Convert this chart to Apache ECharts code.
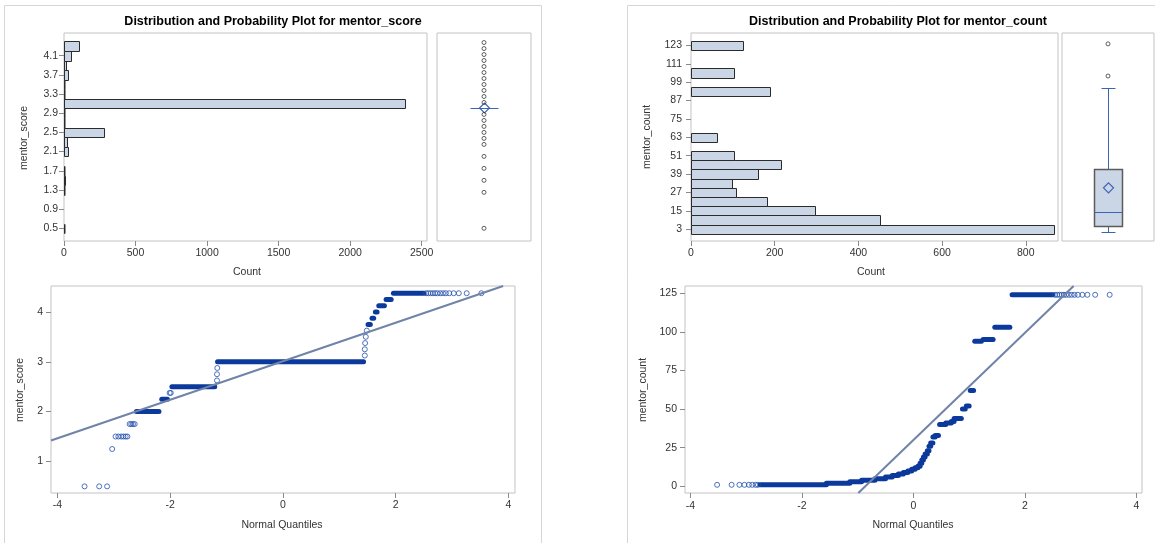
<!DOCTYPE html>
<html><head><meta charset="utf-8">
<script src="https://cdn.jsdelivr.net/npm/echarts@6/dist/echarts.min.js"></script>
<style>html,body{margin:0;padding:0;background:#fff;overflow:hidden}#c{width:1155px;height:543px}</style>
</head><body><div id="c"></div>
<script>
// ================= DATA =================
// mentor_score histogram (bin centers, bin width 0.2)
const scoreBinCenters = [0.5,0.7,0.9,1.1,1.3,1.5,1.7,1.9,2.1,2.3,2.5,2.7,2.9,3.1,3.3,3.5,3.7,3.9,4.1,4.3];
const scoreBinCounts  = [3,0,0,0,1,6,3,0,29,21,281,2,1,2380,3,3,28,14,49,105];
const scoreBinWidth = 0.2;
const scoreYTicks = [0.5,0.9,1.3,1.7,2.1,2.5,2.9,3.3,3.7,4.1];
const scoreCountTicks = [0,500,1000,1500,2000,2500];
// box: [lowWhisker, Q1, median, Q3, highWhisker, mean]
const scoreBox = [3,3,3,3,3,3.01];
const scoreOutliers = [0.5,1.25,1.5,1.75,2.0,2.25,2.375,2.5,2.625,2.75,2.875,3.125,3.25,3.375,3.5,3.625,3.75,3.875,4.0,4.125,4.25,4.375];
// mentor_score normal QQ: dense runs [qFrom, qTo, value], single points [q, value]
const scoreQQRuns = [
  [-2.60,-2.20,2.0],[-2.15,-2.05,2.25],[-1.97,-1.21,2.5],[-1.16,1.43,3.0],
  [1.51,1.55,3.75],[1.58,1.61,3.875],[1.64,1.67,4.0],[1.70,1.80,4.125],[1.83,1.92,4.25],[1.96,2.50,4.375]
];
const scoreQQPoints = [
  [-3.52,0.5],[-3.26,0.5],[-3.12,0.5],[-3.03,1.25],
  [-2.97,1.5],[-2.92,1.5],[-2.87,1.5],[-2.83,1.5],[-2.79,1.5],[-2.76,1.5],
  [-2.72,1.75],[-2.69,1.75],[-2.66,1.75],[-2.63,1.75],
  [-2.01,2.375],[-1.99,2.375],
  [-1.17,2.625],[-1.17,2.75],[-1.165,2.875],
  [1.452,3.125],[1.452,3.25],[1.458,3.375],[1.47,3.5],[1.488,3.625],
  [2.54,4.375],[2.58,4.375],[2.62,4.375],[2.66,4.375],[2.70,4.375],[2.74,4.375],[2.79,4.375],[2.84,4.375],[2.89,4.375],[2.95,4.375],[3.03,4.375],[3.12,4.375],[3.26,4.375],[3.52,4.375]
];
const scoreFitLine = [[-4.115,1.42],[3.906,4.52]];
const scoreQQXTicks = [-4,-2,0,2,4];
const scoreQQYTicks = [1,2,3,4];

// mentor_count histogram (bin centers, bin width 6)
const countBinCenters = [3,9,15,21,27,33,39,45,51,57,63,69,75,81,87,93,99,105,111,117,123];
const countBinCounts  = [868,452,297,182,107,98,160,215,103,0,62,0,0,0,0,189,0,103,0,0,125];
const countBinWidth = 6;
const countYTicks = [3,15,27,39,51,63,75,87,99,111,123];
const countCountTicks = [0,200,400,600,800];
const countBox = [1,5,14,42,95,30];
const countOutliers = [103,124];
const countQQRuns = [
  [-2.75,-1.56,1],[-1.56,-1.14,2],[-1.14,-0.93,3],[-0.93,-0.69,4],[-0.69,-0.50,5],
  [-0.50,-0.38,6],[-0.38,-0.27,7],[-0.27,-0.18,8],[-0.18,-0.10,9],[-0.10,-0.03,10],
  [-0.03,0.03,11],[0.03,0.08,12],[0.08,0.12,13],[0.12,0.15,15],[0.15,0.18,17],
  [0.18,0.21,19],[0.21,0.25,21],[0.25,0.28,23],[0.28,0.31,26],[0.31,0.35,28],
  [0.35,0.39,32],[0.39,0.45,33],[0.47,0.58,40],[0.58,0.68,41],[0.68,0.73,42],
  [0.73,0.86,44],[0.88,0.93,50],[0.95,1.00,52],[1.02,1.08,62],[1.10,1.22,94],
  [1.25,1.43,95],[1.46,1.73,103],[1.77,2.50,124]
];
const countQQPoints = [
  [-3.52,1],[-3.26,1],[-3.12,1],[-3.03,1],[-2.95,1],[-2.89,1],[-2.83,1],[-2.79,1],
  [2.54,124],[2.58,124],[2.62,124],[2.66,124],[2.70,124],[2.74,124],[2.79,124],[2.84,124],[2.89,124],[2.95,124],[3.03,124],[3.12,124],[3.26,124],[3.52,124]
];
const countFitLine = [[-0.988,-4.3],[2.874,129.7]];
const countQQXTicks = [-4,-2,0,2,4];
const countQQYTicks = [0,25,50,75,100,125];

// ================= STYLE =================
const FONT = 'Liberation Sans, Arial, sans-serif';
const FS = 10.5;
const BAR_FILL = '#CAD5E5', BAR_STROKE = '#2b2b2b';
const BOX_STROKE = '#5c5c5c', BLUE = '#3c64b4';
const RUN = '#0b3a9c', CIRC = '#2450ad', FIT = '#7083a8';
const FRAME = '#c3c3c3';

function histItem(w){
  return function(params, api){
    const c = api.value(0), m = api.value(1);
    if (!(c > 0)) return null;
    const a = api.coord([0, m + w/2]), b = api.coord([c, m - w/2]);
    const x0 = Math.round(a[0]) + 0.5, y0 = Math.round(a[1]) + 0.5;
    const x1 = Math.round(b[0]) + 0.5, y1 = Math.round(b[1]) + 0.5;
    return {type:'rect', shape:{x:x0, y:y0, width:Math.max(x1-x0,0.5), height:y1-y0},
      style:{fill:BAR_FILL, stroke:BAR_STROKE, lineWidth:1}};
  };
}
function boxItem(params, api){
  const cx = Math.round(api.coord([0.5, 0])[0]) + 0.5;
  const y = v => Math.round(api.coord([0.5, v])[1]) + 0.5;
  const lw = api.value(0), q1 = api.value(1), md = api.value(2), q3 = api.value(3), hw = api.value(4), mean = api.value(5);
  const half = 14, cap = 7, d = 5;
  const ch = [];
  ch.push({type:'line', shape:{x1:cx, y1:y(q3), x2:cx, y2:y(hw)}, style:{stroke:BLUE, lineWidth:1}});
  ch.push({type:'line', shape:{x1:cx, y1:y(q1), x2:cx, y2:y(lw)}, style:{stroke:BLUE, lineWidth:1}});
  ch.push({type:'line', shape:{x1:cx-cap, y1:y(hw), x2:cx+cap, y2:y(hw)}, style:{stroke:BLUE, lineWidth:1}});
  ch.push({type:'line', shape:{x1:cx-cap, y1:y(lw), x2:cx+cap, y2:y(lw)}, style:{stroke:BLUE, lineWidth:1}});
  if (y(q1) - y(q3) > 0.5) {
    ch.push({type:'rect', shape:{x:cx-half, y:y(q3), width:2*half, height:y(q1)-y(q3)},
      style:{fill:BAR_FILL, stroke:BOX_STROKE, lineWidth:1.5}});
  }
  ch.push({type:'line', shape:{x1:cx-half, y1:y(md), x2:cx+half, y2:y(md)}, style:{stroke:BLUE, lineWidth:1}});
  const my = api.coord([0.5, mean])[1];
  ch.push({type:'polygon', shape:{points:[[cx, my-d],[cx+d, my],[cx, my+d],[cx-d, my]]},
    style:{fill:'none', stroke:BLUE, lineWidth:1.2}});
  return {type:'group', children:ch};
}
function runItem(params, api){
  const a = api.coord([api.value(0), api.value(2)]), b = api.coord([api.value(1), api.value(2)]);
  return {type:'rect', shape:{x:a[0]-2.5, y:a[1]-2.5, width:b[0]-a[0]+5, height:5, r:2.5},
    style:{fill:RUN}};
}

function axisV(gridIndex, min, max, ticks, margin, fmt){
  const ax = {type:'value', gridIndex, min, max, splitLine:{show:false}, axisLine:{show:false, onZero:false}};
  if (!ticks){ ax.show = false; return ax; }
  ax.axisTick = {show:true, length:5, lineStyle:{color:'#8a8a8a'}, customValues:ticks};
  ax.axisLabel = {show:true, customValues:ticks, color:'#333', fontSize:FS, fontFamily:FONT, margin:margin,
    formatter: fmt || (v => String(v))};
  return ax;
}

const grids = [
  {left:64, top:33, width:363, height:208},   // left hist
  {left:437, top:33, width:94, height:208},   // left box
  {left:51, top:286, width:464, height:207},  // left QQ
  {left:691, top:33, width:367, height:208},  // right hist
  {left:1062, top:33, width:92, height:208},  // right box
  {left:685, top:286, width:457, height:207}  // right QQ
].map(g => Object.assign({show:true, borderColor:FRAME, borderWidth:1, backgroundColor:'transparent', containLabel:false}, g));

const xAxes = [
  axisV(0, 0, 2537, scoreCountTicks, 7),
  axisV(1, 0, 1, null),
  axisV(2, -4.115, 4.117, scoreQQXTicks, 7),
  axisV(3, 0, 877, countCountTicks, 7),
  axisV(4, 0, 1, null),
  axisV(5, -4.096, 4.10, countQQXTicks, 8)
];
const yAxes = [
  axisV(0, 0.235, 4.574, scoreYTicks, 6, v => Number(v).toFixed(1)),
  axisV(1, 0.235, 4.574, null),
  axisV(2, 0.367, 4.52, scoreQQYTicks, 8),
  axisV(3, -4.7, 131.1, countYTicks, 9),
  axisV(4, -4.7, 131.1, null),
  axisV(5, -4.3, 129.7, countQQYTicks, 8)
];

const outlierStyle = {symbol:'circle', symbolSize:4, itemStyle:{color:'rgba(0,0,0,0)', borderColor:'#3a3a3a', borderWidth:1}};
const qqPtStyle = {symbol:'circle', symbolSize:5, itemStyle:{color:'rgba(0,0,0,0)', borderColor:CIRC, borderWidth:1}};

const series = [
  {type:'custom', xAxisIndex:0, yAxisIndex:0, renderItem:histItem(scoreBinWidth),
    data: scoreBinCenters.map((c,i)=>[scoreBinCounts[i], c]), silent:true},
  {type:'custom', xAxisIndex:1, yAxisIndex:1, renderItem:boxItem, data:[scoreBox], silent:true},
  Object.assign({type:'scatter', xAxisIndex:1, yAxisIndex:1, data:scoreOutliers.map(v=>[0.5,v]), silent:true}, outlierStyle),
  {type:'custom', xAxisIndex:2, yAxisIndex:2, renderItem:runItem, data:scoreQQRuns, silent:true},
  Object.assign({type:'scatter', xAxisIndex:2, yAxisIndex:2, data:scoreQQPoints, silent:true}, qqPtStyle),
  {type:'line', xAxisIndex:2, yAxisIndex:2, data:scoreFitLine, showSymbol:false, silent:true,
    lineStyle:{color:FIT, width:2}},

  {type:'custom', xAxisIndex:3, yAxisIndex:3, renderItem:histItem(countBinWidth),
    data: countBinCenters.map((c,i)=>[countBinCounts[i], c]), silent:true},
  {type:'custom', xAxisIndex:4, yAxisIndex:4, renderItem:boxItem, data:[countBox], silent:true},
  Object.assign({type:'scatter', xAxisIndex:4, yAxisIndex:4, data:countOutliers.map(v=>[0.5,v]), silent:true}, outlierStyle),
  {type:'custom', xAxisIndex:5, yAxisIndex:5, renderItem:runItem, data:countQQRuns, silent:true},
  Object.assign({type:'scatter', xAxisIndex:5, yAxisIndex:5, data:countQQPoints, silent:true}, qqPtStyle),
  {type:'line', xAxisIndex:5, yAxisIndex:5, data:countFitLine, showSymbol:false, silent:true,
    lineStyle:{color:FIT, width:2}}
];

function txt(x, y, s){
  return {type:'text', x, y, style:{text:s, fill:'#333', font:FS + 'px ' + FONT, align:'center', verticalAlign:'middle'}};
}
function vtxt(x, y, s){
  return {type:'text', x, y, rotation:Math.PI/2, style:{text:s, fill:'#333', font:FS + 'px ' + FONT, align:'center', verticalAlign:'middle'}};
}
const OUTER = '#d6d6d6';
const TITLE_FONT = 'bold 12.5px ' + FONT;
const graphic = [
  {type:'polyline', shape:{points:[[4.5,543],[4.5,5.5],[541.5,5.5],[541.5,543]]}, style:{stroke:OUTER, fill:'none', lineWidth:1}},
  {type:'polyline', shape:{points:[[627.5,543],[627.5,5.5],[1155,5.5]]}, style:{stroke:OUTER, fill:'none', lineWidth:1}},
  {type:'text', x:273, y:22, style:{text:'Distribution and Probability Plot for mentor_score', fill:'#000', font:TITLE_FONT, align:'center', verticalAlign:'middle'}},
  {type:'text', x:898, y:22, style:{text:'Distribution and Probability Plot for mentor_count', fill:'#000', font:TITLE_FONT, align:'center', verticalAlign:'middle'}},
  vtxt(24, 138, 'mentor_score'),
  txt(247, 272, 'Count'),
  vtxt(20, 390, 'mentor_score'),
  txt(282, 525, 'Normal Quantiles'),
  vtxt(647, 137, 'mentor_count'),
  txt(871, 272, 'Count'),
  vtxt(643, 390, 'mentor_count'),
  txt(913, 525, 'Normal Quantiles')
];

const chart = echarts.init(document.getElementById('c'), null, {renderer:'canvas'});
chart.setOption({
  animation:false,
  backgroundColor:'#fff',
  textStyle:{fontFamily:FONT},
  grid:grids, xAxis:xAxes, yAxis:yAxes, series, graphic
});
</script>
</body></html>
